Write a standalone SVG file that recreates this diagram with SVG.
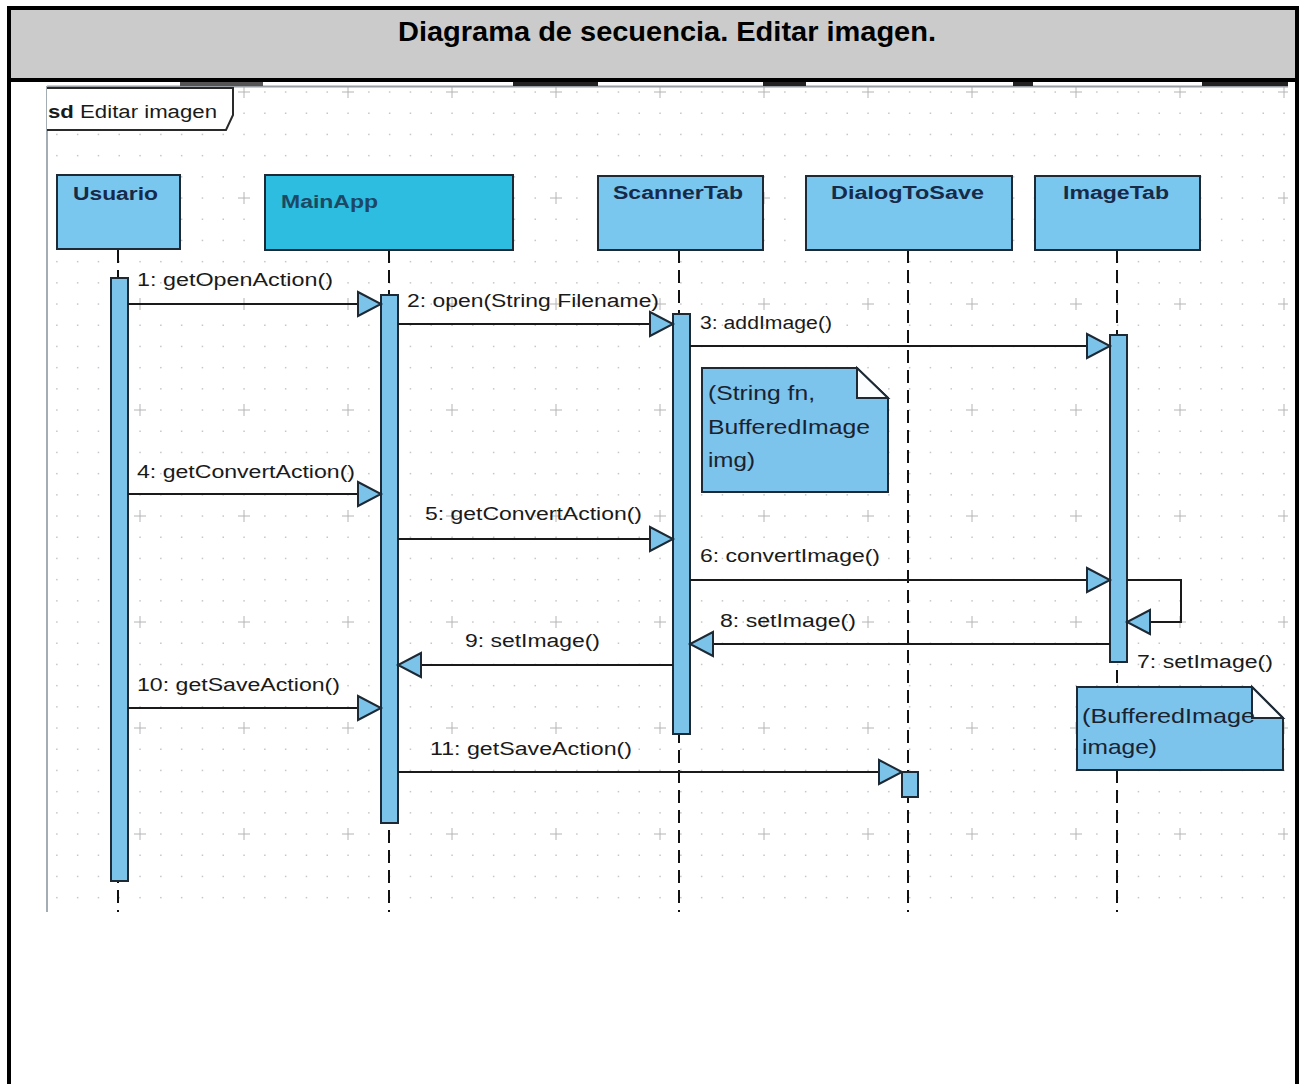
<svg xmlns="http://www.w3.org/2000/svg" width="1302" height="1084" viewBox="0 0 1302 1084">
  <style>
    .title { font-family: "Liberation Sans", Arial, sans-serif; font-weight: bold; font-size: 28px; fill: #000; }
    .head { font-family: "Liberation Sans", Arial, sans-serif; font-weight: bold; font-size: 18px; fill: #172a48; }
    .lbl { font-family: "Liberation Sans", Arial, sans-serif; font-size: 18px; fill: #1a1a1a; }
    .note { font-family: "Liberation Sans", Arial, sans-serif; font-size: 21px; fill: #1a2230; }
    .box { fill: #79c6ef; stroke: #1d2a35; stroke-width: 2; }
    .box-main { fill: #2dbde0; stroke: #1d2a35; stroke-width: 2; }
    .act { fill: #7bc3e9; stroke: #1d2a35; stroke-width: 2; }
    .life { stroke: #111; stroke-width: 2; stroke-dasharray: 13 7; fill: none; }
    .msg { stroke: #1a1a1a; stroke-width: 2; fill: none; marker-end: url(#tri); }
    .notebody { fill: #7cc4ec; stroke: #1d2a35; stroke-width: 2; }
    .fold { fill: #fbfdff; stroke: #1d2a35; stroke-width: 2; stroke-linejoin: miter; }
  </style>
  <defs>
    <!-- dotted canvas grid with a cross every fifth dot -->
    <pattern id="grid" x="88" y="357" width="104" height="106" patternUnits="userSpaceOnUse">
      <g fill="#c6c6c6">
        <rect x="9.7" y="9.9" width="1.5" height="1.5"/><rect x="30.5" y="9.9" width="1.5" height="1.5"/><rect x="51.3" y="9.9" width="1.5" height="1.5"/><rect x="72.1" y="9.9" width="1.5" height="1.5"/><rect x="92.9" y="9.9" width="1.5" height="1.5"/>
        <rect x="9.7" y="31.1" width="1.5" height="1.5"/><rect x="30.5" y="31.1" width="1.5" height="1.5"/><rect x="51.3" y="31.1" width="1.5" height="1.5"/><rect x="72.1" y="31.1" width="1.5" height="1.5"/><rect x="92.9" y="31.1" width="1.5" height="1.5"/>
        <rect x="9.7" y="52.3" width="1.5" height="1.5"/><rect x="30.5" y="52.3" width="1.5" height="1.5"/><rect x="72.1" y="52.3" width="1.5" height="1.5"/><rect x="92.9" y="52.3" width="1.5" height="1.5"/>
        <rect x="9.7" y="73.5" width="1.5" height="1.5"/><rect x="30.5" y="73.5" width="1.5" height="1.5"/><rect x="51.3" y="73.5" width="1.5" height="1.5"/><rect x="72.1" y="73.5" width="1.5" height="1.5"/><rect x="92.9" y="73.5" width="1.5" height="1.5"/>
        <rect x="9.7" y="94.7" width="1.5" height="1.5"/><rect x="30.5" y="94.7" width="1.5" height="1.5"/><rect x="51.3" y="94.7" width="1.5" height="1.5"/><rect x="72.1" y="94.7" width="1.5" height="1.5"/><rect x="92.9" y="94.7" width="1.5" height="1.5"/>
      </g>
      <path d="M46,53 H58 M52,47 V59" stroke="#b4b4b4" stroke-width="1"/>
    </pattern>
    <!-- open message arrowhead -->
    <marker id="tri" markerUnits="userSpaceOnUse" markerWidth="28" markerHeight="30" viewBox="0 0 28 30" refX="25" refY="15" orient="auto">
      <path d="M2,3 L25,15 L2,27 Z" fill="#7bc3e9" stroke="#1d2a35" stroke-width="2" stroke-linejoin="miter"/>
    </marker>
  </defs>

  <!-- page background -->
  <rect x="0" y="0" width="1302" height="1084" fill="#fff"/>

  <!-- table header cell -->
  <rect x="9" y="8" width="1288" height="72" fill="#cbcbcb"/>
  <text class="title" x="667" y="41" text-anchor="middle" textLength="538" lengthAdjust="spacingAndGlyphs">Diagrama de secuencia. Editar imagen.</text>

  <!-- diagram canvas -->
  <rect x="47" y="86" width="1241" height="826" fill="url(#grid)"/>
  <line x1="47" y1="86.5" x2="1288" y2="86.5" stroke="#9a9ea4" stroke-width="2"/>
  <g fill="#222">
    <rect x="180" y="82" width="83" height="4" fill="#555"/>
    <rect x="513" y="82" width="85" height="4"/>
    <rect x="763" y="82" width="43" height="4"/>
    <rect x="1013" y="82" width="20" height="4"/>
    <rect x="1202" y="82" width="86" height="4"/>
  </g>
  <line x1="47" y1="86" x2="47" y2="912" stroke="#a4acb4" stroke-width="2"/>

  <!-- sd frame tag -->
  <g id="frame-tag">
    <path d="M47,88 H233 V115 L226,130 H47" fill="#fff" stroke="#2a2a2a" stroke-width="2"/>
    <text class="lbl" x="48" y="118" font-size="19" textLength="169" lengthAdjust="spacingAndGlyphs"><tspan font-weight="bold">sd</tspan> Editar imagen</text>
  </g>

  <!-- lifelines -->
  <g id="lifelines">
    <line class="life" x1="118" y1="250" x2="118" y2="912"/>
    <line class="life" x1="389" y1="250" x2="389" y2="912"/>
    <line class="life" x1="679" y1="250" x2="679" y2="912"/>
    <line class="life" x1="908" y1="250" x2="908" y2="912"/>
    <line class="life" x1="1117" y1="250" x2="1117" y2="912"/>
  </g>

  <g id="usuario">
    <rect class="box" x="57" y="175" width="123" height="74"/>
    <text class="head" x="73" y="200" textLength="85" lengthAdjust="spacingAndGlyphs">Usuario</text>
    <rect class="act" x="111" y="278" width="17" height="603"/>
  </g>
  <g id="mainapp">
    <rect class="box-main" x="265" y="175" width="248" height="75"/>
    <text class="head" x="281" y="208" fill="#1c4864" style="fill:#1c4864" textLength="97" lengthAdjust="spacingAndGlyphs">MainApp</text>
    <rect class="act" x="381" y="295" width="17" height="528"/>
  </g>
  <g id="scannertab">
    <rect class="box" x="598" y="176" width="165" height="74"/>
    <text class="head" x="613" y="199" textLength="130" lengthAdjust="spacingAndGlyphs">ScannerTab</text>
    <rect class="act" x="673" y="314" width="17" height="420"/>
  </g>
  <g id="dialogtosave">
    <rect class="box" x="806" y="176" width="206" height="74"/>
    <text class="head" x="831" y="199" textLength="153" lengthAdjust="spacingAndGlyphs">DialogToSave</text>
    <rect class="act" x="902" y="772" width="16" height="25"/>
  </g>
  <g id="imagetab">
    <rect class="box" x="1035" y="176" width="165" height="74"/>
    <text class="head" x="1063" y="199" textLength="106" lengthAdjust="spacingAndGlyphs">ImageTab</text>
    <rect class="act" x="1110" y="335" width="17" height="327"/>
  </g>

  <!-- messages -->
  <g id="messages">
    <line class="msg" x1="128" y1="304" x2="381" y2="304"/>
    <line class="msg" x1="398" y1="324" x2="673" y2="324"/>
    <line class="msg" x1="690" y1="346" x2="1110" y2="346"/>
    <line class="msg" x1="128" y1="494" x2="381" y2="494"/>
    <line class="msg" x1="398" y1="539" x2="673" y2="539"/>
    <line class="msg" x1="690" y1="580" x2="1110" y2="580"/>
    <polyline class="msg" points="1127,580 1181,580 1181,622 1127,622"/>
    <line class="msg" x1="1110" y1="644" x2="690" y2="644"/>
    <line class="msg" x1="673" y1="665" x2="398" y2="665"/>
    <line class="msg" x1="128" y1="708" x2="381" y2="708"/>
    <line class="msg" x1="398" y1="772" x2="902" y2="772"/>
  </g>

  <g id="message-labels">
    <text class="lbl" x="137" y="286" textLength="196" lengthAdjust="spacingAndGlyphs">1: getOpenAction()</text>
    <text class="lbl" x="407" y="307" textLength="252" lengthAdjust="spacingAndGlyphs">2: open(String Filename)</text>
    <text class="lbl" x="700" y="329" textLength="132" lengthAdjust="spacingAndGlyphs">3: addImage()</text>
    <text class="lbl" x="137" y="478" textLength="218" lengthAdjust="spacingAndGlyphs">4: getConvertAction()</text>
    <text class="lbl" x="425" y="520" textLength="217" lengthAdjust="spacingAndGlyphs">5: getConvertAction()</text>
    <text class="lbl" x="700" y="562" textLength="180" lengthAdjust="spacingAndGlyphs">6: convertImage()</text>
    <text class="lbl" x="1137" y="668" textLength="136" lengthAdjust="spacingAndGlyphs">7: setImage()</text>
    <text class="lbl" x="720" y="627" textLength="136" lengthAdjust="spacingAndGlyphs">8: setImage()</text>
    <text class="lbl" x="465" y="647" textLength="135" lengthAdjust="spacingAndGlyphs">9: setImage()</text>
    <text class="lbl" x="137" y="691" textLength="203" lengthAdjust="spacingAndGlyphs">10: getSaveAction()</text>
    <text class="lbl" x="430" y="755" textLength="202" lengthAdjust="spacingAndGlyphs">11: getSaveAction()</text>
  </g>

  <!-- notes -->
  <g id="note-addimage">
    <path class="notebody" d="M702,368 H857 L888,398 V492 H702 Z"/>
    <path class="fold" d="M857,368 V398 H888 Z"/>
    <text class="note" x="708" y="400" textLength="107" lengthAdjust="spacingAndGlyphs">(String fn,</text>
    <text class="note" x="708" y="434" textLength="162" lengthAdjust="spacingAndGlyphs">BufferedImage</text>
    <text class="note" x="708" y="467" textLength="47" lengthAdjust="spacingAndGlyphs">img)</text>
  </g>
  <g id="note-setimage">
    <path class="notebody" d="M1077,687 H1252 L1283,718 V770 H1077 Z"/>
    <path class="fold" d="M1252,687 V718 H1283 Z"/>
    <text class="note" x="1082" y="723" textLength="173" lengthAdjust="spacingAndGlyphs">(BufferedImage</text>
    <text class="note" x="1082" y="754" textLength="75" lengthAdjust="spacingAndGlyphs">image)</text>
  </g>

  <!-- table borders -->
  <g stroke="#000" stroke-width="4" fill="none">
    <line x1="7" y1="8" x2="1299" y2="8"/>
    <line x1="7" y1="80" x2="1299" y2="80"/>
    <line x1="9" y1="6" x2="9" y2="1084"/>
    <line x1="1297" y1="6" x2="1297" y2="1084"/>
  </g>
</svg>
